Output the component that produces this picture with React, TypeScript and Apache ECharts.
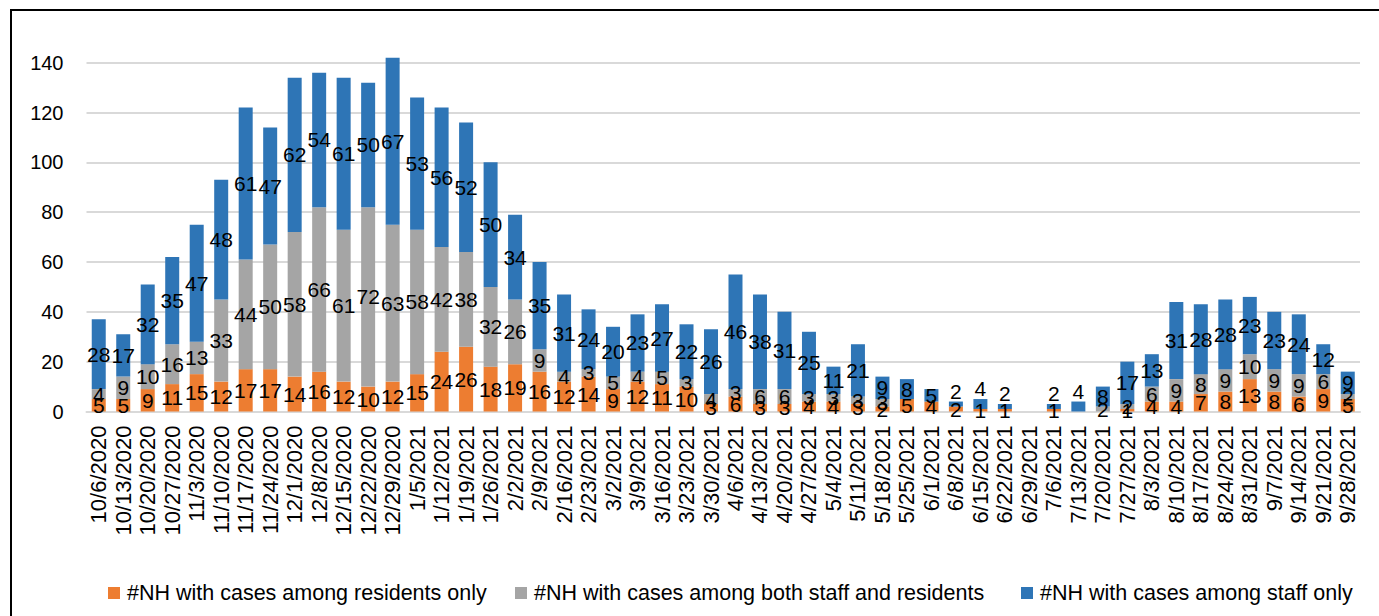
import React, { useEffect, useRef } from "react";
import * as echarts from "echarts";

const categories = [
  "10/6/2020", "10/13/2020", "10/20/2020", "10/27/2020", "11/3/2020", "11/10/2020", "11/17/2020", "11/24/2020",
  "12/1/2020", "12/8/2020", "12/15/2020", "12/22/2020", "12/29/2020", "1/5/2021", "1/12/2021", "1/19/2021",
  "1/26/2021", "2/2/2021", "2/9/2021", "2/16/2021", "2/23/2021", "3/2/2021", "3/9/2021", "3/16/2021",
  "3/23/2021", "3/30/2021", "4/6/2021", "4/13/2021", "4/20/2021", "4/27/2021", "5/4/2021", "5/11/2021",
  "5/18/2021", "5/25/2021", "6/1/2021", "6/8/2021", "6/15/2021", "6/22/2021", "6/29/2021", "7/6/2021",
  "7/13/2021", "7/20/2021", "7/27/2021", "8/3/2021", "8/10/2021", "8/17/2021", "8/24/2021", "8/31/2021",
  "9/7/2021", "9/14/2021", "9/21/2021", "9/28/2021",
];

const residentsOnly = [
  5, 5, 9, 11, 15, 12, 17, 17, 14, 16, 12, 10, 12, 15, 24, 26,
  18, 19, 16, 12, 14, 9, 12, 11, 10, 3, 6, 3, 3, 4, 4, 3,
  2, 5, 4, 2, 1, 1, 0, 1, 0, 0, 1, 4, 4, 7, 8, 13,
  8, 6, 9, 5,
];

const bothStaffResidents = [
  4, 9, 10, 16, 13, 33, 44, 50, 58, 66, 61, 72, 63, 58, 42, 38,
  32, 26, 9, 4, 3, 5, 4, 5, 3, 4, 3, 6, 6, 3, 3, 3,
  3, 0, 0, 0, 0, 0, 0, 0, 0, 2, 2, 6, 9, 8, 9, 10,
  9, 9, 6, 2,
];

const staffOnly = [
  28, 17, 32, 35, 47, 48, 61, 47, 62, 54, 61, 50, 67, 53, 56, 52,
  50, 34, 35, 31, 24, 20, 23, 27, 22, 26, 46, 38, 31, 25, 11, 21,
  9, 8, 5, 2, 4, 2, 0, 2, 4, 8, 17, 13, 31, 28, 28, 23,
  23, 24, 12, 9,
];

const yTicks = { min: 0, max: 140, interval: 20 };

const seriesNames = [
  "#NH with cases among residents only",
  "#NH with cases among both staff and residents",
  "#NH with cases among staff only",
];
const colors = ["#ED7D31", "#A5A5A5", "#2E75B6"];
const legendLefts = [108, 515, 1021];

const FONT = "'Liberation Sans', Arial, sans-serif";

export default function App() {
  const ref = useRef<HTMLDivElement>(null);
  useEffect(() => {
    if (!ref.current) return;
    const chart = echarts.init(ref.current, null, { renderer: "svg" });
    const baseLabel = {
      show: true,
      position: "inside",
      color: "#000",
      fontSize: 21,
      fontFamily: FONT,
      formatter: (p: any) => (p.value ? String(p.value) : ""),
    };
    const mk = (name: string, data: number[], color: string, isTop: boolean) => ({
      name,
      type: "bar",
      stack: "total",
      barWidth: 14,
      clip: false,
      itemStyle: { color },
      label: baseLabel,
      // a top segment too thin for its label gets the label just above the bar
      data: data.map((v) =>
        isTop && v > 0 && v <= 4
          ? { value: v, label: { position: "top", distance: 0 } }
          : v
      ),
    });
    chart.setOption({
      animation: false,
      backgroundColor: "#fff",
      textStyle: { fontFamily: FONT },
      grid: { left: 86.5, right: 19, top: 62.7, bottom: 204.5, containLabel: false },
      legend: seriesNames.map((name, i) => ({
        left: legendLefts[i],
        top: 582,
        padding: 0,
        itemWidth: 12,
        itemHeight: 12,
        icon: "rect",
        textStyle: { fontSize: 21.5, color: "#000", fontFamily: FONT, padding: [0, 0, 0, 2] },
        data: [name],
      })),
      xAxis: {
        type: "category",
        data: categories,
        axisLine: { lineStyle: { color: "#D9D9D9", width: 2 } },
        axisTick: { show: false },
        axisLabel: {
          interval: 0,
          rotate: 90,
          margin: 14,
          fontSize: 22,
          color: "#000",
          fontFamily: FONT,
        },
      },
      yAxis: {
        type: "value",
        min: yTicks.min,
        max: yTicks.max,
        interval: yTicks.interval,
        axisLine: { show: false },
        axisTick: { show: false },
        splitLine: { lineStyle: { color: "#D9D9D9", width: 2 } },
        axisLabel: { fontSize: 20, color: "#000", margin: 23, fontFamily: FONT },
      },
      graphic: [
        {
          type: "polyline",
          shape: { points: [[11, 616], [11, 10], [1379, 10]] },
          style: { stroke: "#000", lineWidth: 2, fill: "none" },
          silent: true,
        },
      ],
      series: [
        mk(seriesNames[0], residentsOnly, colors[0], false),
        mk(seriesNames[1], bothStaffResidents, colors[1], false),
        mk(seriesNames[2], staffOnly, colors[2], true),
      ],
    });
    return () => chart.dispose();
  }, []);
  return (
    <div
      ref={ref}
      style={{ position: "fixed", left: 0, top: 0, width: 1379, height: 616 }}
    />
  );
}
